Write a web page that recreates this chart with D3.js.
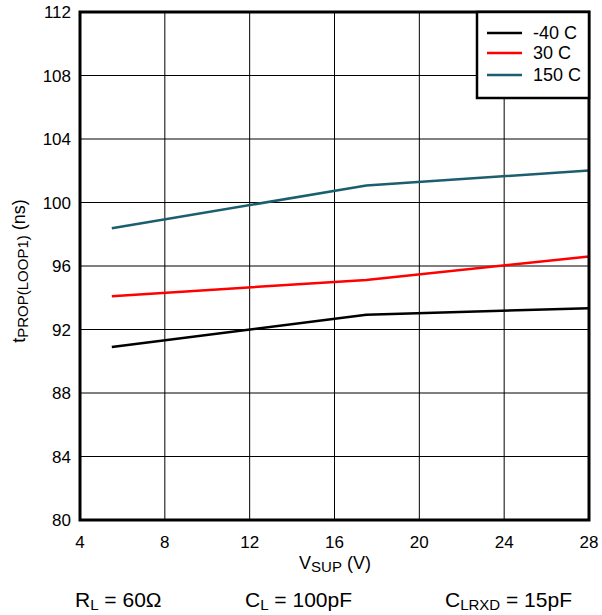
<!DOCTYPE html>
<html>
  <head>
    <meta charset="utf-8" />
    <script src="https://d3js.org/d3.v7.min.js"></script>
    <title>tPROP vs VSUP</title>
    <style>
        body { margin: 0; background: #fff; }
        text { font-family: "Liberation Sans", Arial, sans-serif; fill: #000; }
    </style>
  </head>
  <body>
    <svg id="chart" width="602" height="615"></svg>

    <script>
    // data
        var vsup = [5.5, 17.5, 28];
        var tMinus40 = [90.9, 92.93, 93.34];
        var t30 = [94.1, 95.12, 96.6];
        var t150 = [98.38, 101.07, 102.02];

        var seriesNames = ["-40 C", "30 C", "150 C"];
        var seriesColors = ["#000000", "#ff0000", "#1b5e70"];
        var xTicks = [4, 8, 12, 16, 20, 24, 28];
        var yTicks = [80, 84, 88, 92, 96, 100, 104, 108, 112];

        var series = [tMinus40, t30, t150].map(function(vals, i){
            return {
                name: seriesNames[i],
                color: seriesColors[i],
                points: vals.map(function(v, j){ return {x: vsup[j], y: v}; })
            };
        });

        var svg = d3.select("#chart");

        var x = d3.scaleLinear().domain([4, 28]).range([80, 589]);
        var y = d3.scaleLinear().domain([80, 112]).range([520, 12]);

        // grid
        svg.append("g")
            .selectAll("line")
            .data(xTicks.slice(1, -1))
            .enter().append("line")
            .attr("x1", function(d){ return x(d); })
            .attr("x2", function(d){ return x(d); })
            .attr("y1", y(80))
            .attr("y2", y(112))
            .attr("stroke", "#000")
            .attr("stroke-width", 1);

        svg.append("g")
            .selectAll("line")
            .data(yTicks.slice(1, -1))
            .enter().append("line")
            .attr("x1", x(4))
            .attr("x2", x(28))
            .attr("y1", function(d){ return y(d); })
            .attr("y2", function(d){ return y(d); })
            .attr("stroke", "#000")
            .attr("stroke-width", 1);

        // curves
        var line = d3.line()
            .x(function(d){ return x(d.x); })
            .y(function(d){ return y(d.y); });

        svg.append("g")
            .selectAll("path")
            .data(series)
            .enter().append("path")
            .attr("d", function(d){ return line(d.points); })
            .attr("fill", "none")
            .attr("stroke", function(d){ return d.color; })
            .attr("stroke-width", 2.5);

        // frame
        svg.append("rect")
            .attr("x", x(4))
            .attr("y", y(112))
            .attr("width", x(28) - x(4))
            .attr("height", y(80) - y(112))
            .attr("fill", "none")
            .attr("stroke", "#000")
            .attr("stroke-width", 3);

        // tick labels
        svg.append("g")
            .selectAll("text")
            .data(xTicks)
            .enter().append("text")
            .attr("x", function(d){ return x(d); })
            .attr("y", 548)
            .attr("text-anchor", "middle")
            .style("font-size", "17px")
            .text(function(d){ return d; });

        svg.append("g")
            .selectAll("text")
            .data(yTicks)
            .enter().append("text")
            .attr("x", 71)
            .attr("y", function(d){ return y(d) + 6; })
            .attr("text-anchor", "end")
            .style("font-size", "17px")
            .text(function(d){ return d; });

        // axis titles
        var xt = svg.append("text")
            .attr("x", 335)
            .attr("y", 569)
            .attr("text-anchor", "middle")
            .style("font-size", "18px");
        xt.append("tspan").text("V");
        xt.append("tspan").attr("dy", 3).style("font-size", "15px").text("SUP");
        xt.append("tspan").attr("dy", -3).text(" (V)");

        var yt = svg.append("text")
            .attr("transform", "translate(25,271) rotate(-90)")
            .attr("text-anchor", "middle")
            .style("font-size", "18px");
        yt.append("tspan").text("t");
        yt.append("tspan").attr("dy", 3).style("font-size", "15px").text("PROP(LOOP1)");
        yt.append("tspan").attr("dy", -3).text(" (ns)");

        // conditions
        var conds = [
            {x: 75, main: "R", sub: "L", rest: " = 60Ω"},
            {x: 245, main: "C", sub: "L", rest: " = 100pF"},
            {x: 445, main: "C", sub: "LRXD", rest: " = 15pF"}
        ];
        conds.forEach(function(c){
            var t = svg.append("text")
                .attr("x", c.x)
                .attr("y", 607)
                .style("font-size", "21px");
            t.append("tspan").text(c.main);
            t.append("tspan").attr("dy", 3).style("font-size", "15px").text(c.sub);
            t.append("tspan").attr("dy", -3).text(c.rest);
        });

        // legend
        var legend = svg.append("g");
        legend.append("rect")
            .attr("x", 477)
            .attr("y", 12)
            .attr("width", 589 - 477)
            .attr("height", 86)
            .attr("fill", "#fff")
            .attr("stroke", "#000")
            .attr("stroke-width", 2.5);

        var legendY = [33, 53, 75];
        var items = legend.selectAll("g.item")
            .data(series)
            .enter().append("g")
            .attr("class", "item");
        items.append("line")
            .attr("x1", 487)
            .attr("x2", 522)
            .attr("y1", function(d, i){ return legendY[i]; })
            .attr("y2", function(d, i){ return legendY[i]; })
            .attr("stroke", function(d){ return d.color; })
            .attr("stroke-width", 2.5);
        items.append("text")
            .attr("x", 533)
            .attr("y", function(d, i){ return legendY[i] + 6; })
            .style("font-size", "18px")
            .text(function(d){ return d.name; });
    </script>
  </body>
</html>
